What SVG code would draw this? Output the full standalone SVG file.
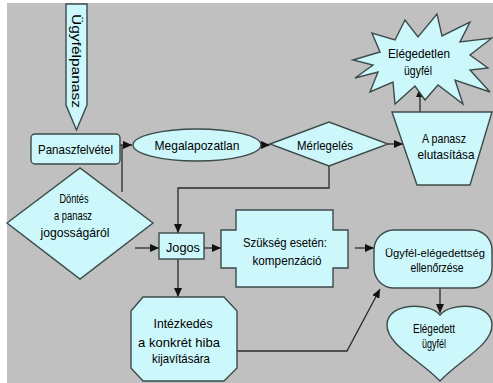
<svg xmlns="http://www.w3.org/2000/svg" width="493" height="383" viewBox="0 0 493 383">
<defs>
<marker id="ah" markerUnits="userSpaceOnUse" markerWidth="10" markerHeight="8" refX="9" refY="4" orient="auto">
<path d="M0,0 L9,4 L0,8 z" fill="#111"/>
</marker>
<style>
.s{fill:#ccf8fb;stroke:#3c4a4a;stroke-width:1.4}
.c{fill:none;stroke:#2a2a2a;stroke-width:1.3}
.a{marker-end:url(#ah)}
text{font-family:"Liberation Sans",Arial,sans-serif;font-size:13px;fill:#000;text-anchor:middle}
text.sm{font-size:11.5px}
</style>
</defs>
<rect x="0" y="0" width="493" height="383" fill="#fff"/>
<rect x="7" y="3" width="486" height="380" fill="#c0c0c0"/>

<g id="connectors">
<line class="c a" x1="120" y1="145" x2="132" y2="145"/>
<line class="c" x1="122" y1="145" x2="122" y2="192"/>
<line class="c a" x1="261" y1="145" x2="270" y2="145"/>
<line class="c a" x1="388" y1="144" x2="403" y2="144"/>
<line class="c a" x1="420" y1="112" x2="420" y2="88"/>
<polyline class="c a" points="329,166 329,188 178,188 178,233"/>
<line class="c a" x1="135" y1="248" x2="159" y2="248"/>
<line class="c a" x1="204" y1="248" x2="221" y2="248"/>
<line class="c a" x1="355" y1="248" x2="374" y2="248"/>
<line class="c a" x1="440" y1="288" x2="440" y2="313"/>
<line class="c a" x1="178" y1="259" x2="178" y2="297"/>
<polyline class="c a" points="237,351 347,351 380,289"/>
</g>

<g id="ugyfelpanasz">
<polygon class="s" points="66,4 87,4 87,105 76.5,130 66,105"/>
<text transform="translate(76.5,61) rotate(90)" x="0" y="4.5" textLength="94" lengthAdjust="spacingAndGlyphs">Ügyfélpanasz</text>
</g>

<g id="panaszfelvetel">
<rect class="s" x="31" y="134" width="89" height="30" rx="4"/>
<text x="75.5" y="154" textLength="75" lengthAdjust="spacingAndGlyphs">Panaszfelvétel</text>
</g>

<g id="megalapozatlan">
<ellipse class="s" cx="197" cy="145" rx="64" ry="16"/>
<text x="197" y="150" textLength="85" lengthAdjust="spacingAndGlyphs">Megalapozatlan</text>
</g>

<g id="merlegeles">
<polygon class="s" points="270,144 329,122 388,144 329,166"/>
<text x="325" y="149.5" textLength="56" lengthAdjust="spacingAndGlyphs">Mérlegelés</text>
</g>

<g id="elutasitas">
<polygon class="s" points="392,112 492,112 470,185 417,185"/>
<text x="444" y="142.5" textLength="44" lengthAdjust="spacingAndGlyphs">A panasz</text>
<text x="446" y="158.5" textLength="57" lengthAdjust="spacingAndGlyphs">elutasítása</text>
</g>

<g id="elegedetlen">
<polygon class="s" points="353,60 380,52 372,33 395,40 405,20 418,37 437,14 442,36 470,22 460,42 492,38 470,55 488,68 470,70 490,92 455,80 463,104 438,85 425,100 415,86 395,104 393,82 370,92 378,72 355,78 373,65"/>
<text x="419" y="57.5" textLength="62" lengthAdjust="spacingAndGlyphs">Elégedetlen</text>
<text x="418" y="74.5" textLength="28" lengthAdjust="spacingAndGlyphs">ügyfél</text>
</g>

<g id="dontes">
<polygon class="s" points="7,223 80,168 153,223 80,279"/>
<text x="74" y="202.5" textLength="29" lengthAdjust="spacingAndGlyphs">Döntés</text>
<text x="73" y="219.5" textLength="38" lengthAdjust="spacingAndGlyphs">a panasz</text>
<text x="75" y="236.5" textLength="69" lengthAdjust="spacingAndGlyphs">jogosságáról</text>
</g>

<g id="jogos">
<rect class="s" x="159" y="233" width="45" height="26"/>
<text x="183" y="251.5" textLength="34" lengthAdjust="spacingAndGlyphs">Jogos</text>
</g>

<g id="kompenzacio">
<polygon class="s" points="236,210 333,210 333,230 348,230 348,268 333,268 333,287 236,287 236,268 221,268 221,230 236,230"/>
<text x="285" y="246.5" textLength="84" lengthAdjust="spacingAndGlyphs">Szükség esetén:</text>
<text x="287" y="264.5" textLength="69" lengthAdjust="spacingAndGlyphs">kompenzáció</text>
</g>

<g id="ellenorzes">
<rect class="s" x="374" y="230" width="118" height="58" rx="20"/>
<text class="sm" x="435" y="257" textLength="100" lengthAdjust="spacingAndGlyphs">Ügyfél-elégedettség</text>
<text x="437" y="272" textLength="53" lengthAdjust="spacingAndGlyphs">ellenőrzése</text>
</g>

<g id="elegedett">
<path class="s" d="M440,315 C430,302 387,302 387,325 C387,345 420,360 440,381 C460,360 492,345 492,325 C492,302 450,302 440,315 Z"/>
<text x="434" y="332.5" textLength="42" lengthAdjust="spacingAndGlyphs">Elégedett</text>
<text x="434" y="347.5" textLength="24" lengthAdjust="spacingAndGlyphs">ügyfél</text>
</g>

<g id="intezkedes">
<polygon class="s" points="143,297 224,297 237,311 237,368 224,381 143,381 131,368 131,311"/>
<text x="183" y="327.5" textLength="59" lengthAdjust="spacingAndGlyphs">Intézkedés</text>
<text x="179" y="346.5" textLength="82" lengthAdjust="spacingAndGlyphs">a konkrét hiba</text>
<text x="181" y="362.5" textLength="58" lengthAdjust="spacingAndGlyphs">kijavítására</text>
</g>
</svg>
